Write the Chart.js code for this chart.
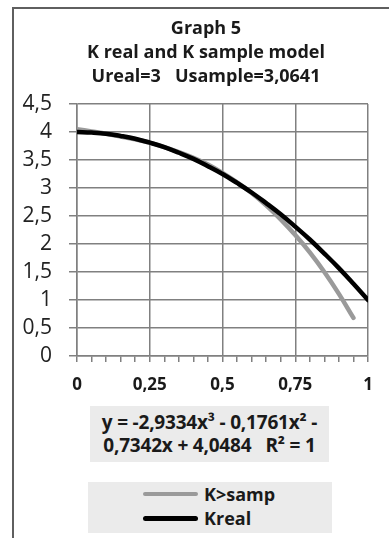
<!DOCTYPE html>
<html>
<head>
<meta charset="utf-8">
<script src="https://cdn.jsdelivr.net/npm/chart.js@4/dist/chart.umd.min.js"></script>
<style>
  html, body { margin: 0; padding: 0; background: #fff; overflow: hidden; }
  body { width: 389px; height: 538px; position: relative; font-family: "Open Sans", "Noto Sans", sans-serif; }
  .frame { position: absolute; left: 12px; top: 7px; width: 400px; height: 560px; border: 2px solid #5f5f5f; box-sizing: border-box; }
  #chart { position: absolute; left: 0; top: 0; }
  .title { position: absolute; left: 13px; width: 386px; top: 15px; text-align: center; font-weight: bold; font-size: 18px; line-height: 24px; color: #1a1a1a; }
  .eq { position: absolute; left: 90px; top: 406px; width: 239px; height: 56px; background: #ebebeb; text-align: center; font-weight: bold; font-size: 19px; line-height: 23px; color: #1a1a1a; padding-top: 5px; box-sizing: border-box; white-space: nowrap; letter-spacing: -0.2px; }
  .legend { position: absolute; left: 88px; top: 482px; width: 244px; height: 51px; background: #ebebeb; }
  .legend .item { position: absolute; left: 55px; height: 24px; }
  .legend .swatch { position: absolute; left: 0; width: 55px; border-radius: 3px; }
  .legend .lbl { position: absolute; left: 61px; top: 0; font-weight: bold; font-size: 18px; line-height: 24px; color: #1a1a1a; white-space: nowrap; }
</style>
</head>
<body>
<div class="frame"></div>
<canvas id="chart" width="389" height="400"></canvas>
<div class="title">Graph 5<br>K real and K sample model<br>Ureal=3&nbsp;&nbsp;&nbsp;Usample=3,0641</div>
<div class="eq">y = -2,9334x³ - 0,1761x² -<br>0,7342x + 4,0484&nbsp;&nbsp;&nbsp;R² = 1</div>
<div class="legend">
  <div class="item" style="top:0px;"><div class="swatch" style="top:10px;height:4px;background:#9a9a9a;"></div><div class="lbl">K&gt;samp</div></div>
  <div class="item" style="top:24px;"><div class="swatch" style="top:10px;height:5px;background:#000;"></div><div class="lbl">Kreal</div></div>
</div>
<script>
// x positions read along the axis (step 0,05)
const xValues = [0, 0.05, 0.1, 0.15, 0.2, 0.25, 0.3, 0.35, 0.4, 0.45, 0.5,
  0.55, 0.6, 0.65, 0.7, 0.75, 0.8, 0.85, 0.9, 0.95, 1];

// K>samp (grey) - ends near x = 0,95
const kSamp = [4.05, 4.01, 3.97, 3.92, 3.87, 3.81, 3.73, 3.64, 3.54, 3.42, 3.27,
  3.10, 2.91, 2.69, 2.44, 2.16, 1.85, 1.50, 1.11, 0.68];

// Kreal (black)
const kReal = [4.00, 3.99, 3.97, 3.93, 3.88, 3.81, 3.73, 3.63, 3.52, 3.39, 3.25,
  3.09, 2.92, 2.73, 2.53, 2.31, 2.08, 1.83, 1.57, 1.29, 1.00];

const yTicks = { min: 0, max: 4.5, step: 0.5 };
const xTicks = { min: 0, max: 1, step: 0.05, major: 0.25 };

const gridColor = '#808080';
const commaNum = (v) => String(Math.round(v * 100) / 100).replace('.', ',');
const isMajor = (v) => Math.abs(v / xTicks.major - Math.round(v / xTicks.major)) < 1e-6;

function toPoints(vals) {
  return vals.map((y, i) => ({ x: xValues[i], y: y }));
}

const ctx = document.getElementById('chart').getContext('2d');

new Chart(ctx, {
  type: 'line',
  data: {
    datasets: [
      {
        label: 'K>samp',
        data: toPoints(kSamp),
        borderColor: '#9a9a9a',
        borderWidth: 4.5,
        borderCapStyle: 'round',
        pointRadius: 0,
        tension: 0.4,
        order: 1
      },
      {
        label: 'Kreal',
        data: toPoints(kReal),
        borderColor: '#000000',
        borderWidth: 4.5,
        borderCapStyle: 'round',
        pointRadius: 0,
        tension: 0.4,
        order: 0
      }
    ]
  },
  options: {
    responsive: false,
    devicePixelRatio: 1,
    animation: false,
    layout: {
      padding: { top: 104, left: 0, right: 21, bottom: 0 }
    },
    plugins: {
      legend: { display: false },
      tooltip: { enabled: false },
      title: { display: false }
    },
    scales: {
      x: {
        type: 'linear',
        min: xTicks.min,
        max: xTicks.max,
        afterFit: (scale) => { scale.height = 44; },
        ticks: {
          stepSize: xTicks.step,
          autoSkip: false,
          maxRotation: 0,
          padding: 13,
          color: '#1a1a1a',
          font: { family: 'Open Sans', size: 17, weight: 'bold' },
          callback: (v) => (isMajor(v) ? commaNum(v) : '')
        },
        grid: {
          color: (c) => (c.tick && isMajor(c.tick.value) ? gridColor : 'rgba(0,0,0,0)'),
          lineWidth: 1.5,
          tickLength: 6,
          tickColor: gridColor,
          tickWidth: 1.5
        },
        border: { color: gridColor, width: 1.5 }
      },
      y: {
        min: yTicks.min,
        max: yTicks.max,
        afterFit: (scale) => { scale.width = 77; },
        ticks: {
          stepSize: yTicks.step,
          autoSkip: false,
          padding: 17,
          color: '#222222',
          font: { family: 'Open Sans', size: 21 },
          callback: (v) => commaNum(v)
        },
        grid: {
          color: gridColor,
          lineWidth: 1.5,
          tickLength: 8,
          tickColor: gridColor
        },
        border: { color: gridColor, width: 1.5 }
      }
    }
  }
});
</script>
</body>
</html>
